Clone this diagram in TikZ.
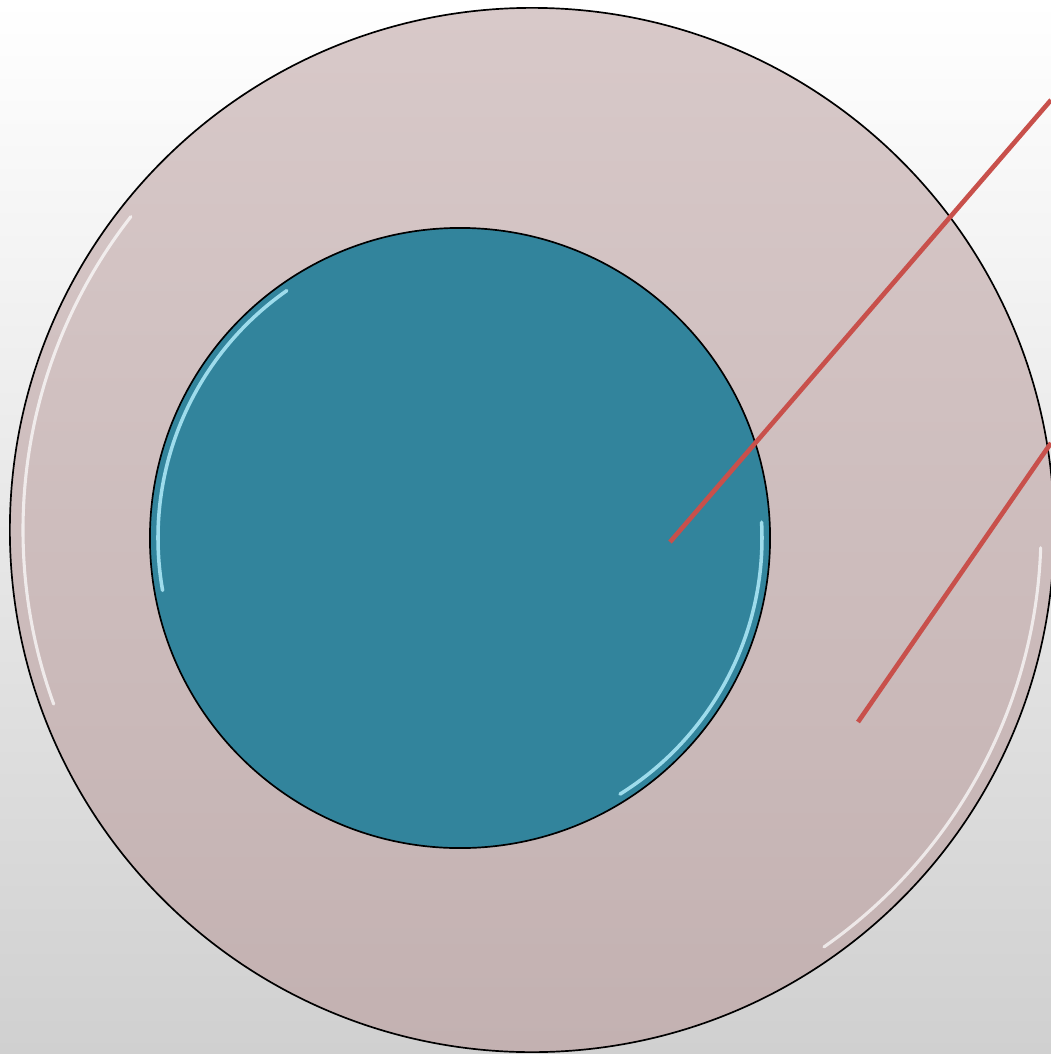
\documentclass[tikz,border=0pt]{standalone}
\usetikzlibrary{calc}

\definecolor{ringtop}{RGB}{216,201,201}
\definecolor{ringbot}{RGB}{195,177,177}
\definecolor{kern}{RGB}{50,132,156}
\definecolor{kernglow}{RGB}{170,230,245}
\definecolor{zeiger}{RGB}{200,80,75}

\tikzset{
    ring/.style={circle, draw=black, line width=1.2pt, inner sep=0pt,
        top color=ringtop, bottom color=ringbot},
    kreis/.style={circle, draw=black, line width=1.2pt, inner sep=0pt, fill=kern},
    glanz/.style={line width=2.2pt, line cap=round, draw=white, opacity=0.7},
    zeigerlinie/.style={draw=zeiger, line width=3.3pt}
}

\begin{document}
\begin{tikzpicture}[x=0.025cm, y=-0.025cm]
    \useasboundingbox (0,0) rectangle (1051,1054);
    \clip (0,0) rectangle (1051,1054);
    \shade[top color=white, bottom color={rgb,255:red,208;green,208;blue,208}]
        (0,0) rectangle (1051,1054);
    \path node[ring, minimum size=26.1cm] (aussen) at (532,530) {}
        node[kreis, minimum size=15.5cm] (innen) at (460,538) {};
    % glanzlichter (y-achse gespiegelt)
    \draw[glanz] ($(aussen.center)+(-142:509)$) arc[start angle=-142, end angle=-200, radius=509];
    \draw[glanz] ($(aussen.center)+(2:509)$) arc[start angle=2, end angle=55, radius=509];
    \draw[glanz, draw=kernglow, line width=2.5pt, opacity=0.9]
        ($(innen.center)+(-125:302)$) arc[start angle=-125, end angle=-190, radius=302];
    \draw[glanz, draw=kernglow, line width=2.5pt, opacity=0.9]
        ($(innen.center)+(-3:302)$) arc[start angle=-3, end angle=58, radius=302];
    \path coordinate (a1) at (670,542)
        coordinate (b1) at (1051,100)
        coordinate (a2) at (858,722)
        coordinate (b2) at (1051,443);
    \draw[zeigerlinie] (a1) -- (b1);
    \draw[zeigerlinie] (a2) -- (b2);
\end{tikzpicture}
\end{document}
